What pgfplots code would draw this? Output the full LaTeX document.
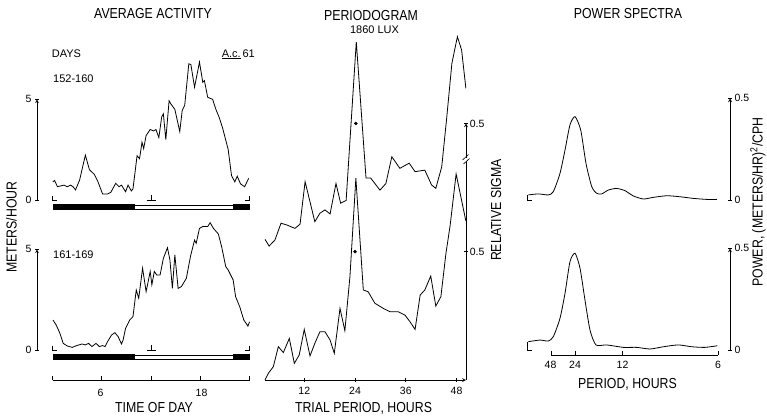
\documentclass[border=0pt]{standalone}
\usepackage{fontspec}
\setmainfont{Liberation Sans}
\newfontfamily\lblfont{Liberation Sans}[FakeStretch=0.85]
\usepackage{pgfplots}
\pgfplotsset{compat=1.18}

\newcommand\bigtxt{\lblfont\fontsize{14.5}{16}\selectfont}
\newcommand\smtxt{\fontsize{11}{12}\selectfont}
\newcommand\ticktxt{\fontsize{10.5}{12}\selectfont}

\pgfplotsset{
  panel/.style={
    enlargelimits=false, clip=false,
    tick align=inside, major tick length=4pt,
    axis line style={-, line width=0.7pt},
    every tick/.style={black, line width=0.7pt},
    tick label style={font=\ticktxt},
    /pgf/number format/assume math mode=true,
  },
  curve/.style={black, line width=0.8pt, mark=none},
}

\begin{document}
\begin{tikzpicture}[x=1pt,y=1pt]
\useasboundingbox (0,0) rectangle (767,-416);

% ---------------- average activity, days 152-160 ----------------
\begin{axis}[panel, at={(37pt,-200pt)}, anchor=south west,
  x=8.21pt, y=20.14pt, xmin=-1.89, xmax=24, ymin=0, ymax=5,
  axis x line=none, axis y line=left, ytick={0,5}]
\addplot[curve] table {
0.04 0.90
0.25 0.97
0.6 0.66
1.0 0.70
1.4 0.74
1.8 0.66
2.2 0.74
2.5 0.66
2.8 0.50
3.3 0.99
4.0 2.23
4.5 1.50
5.1 1.27
5.5 0.94
6.1 0.30
6.7 0.30
7.1 0.38
7.7 0.83
8.1 0.66
8.4 0.74
8.9 0.41
9.2 0.74
9.6 0.45
9.8 0.55
10.3 2.20
10.6 2.05
10.9 2.87
11.1 2.55
11.4 3.20
11.9 3.50
12.3 3.43
12.6 3.50
12.95 3.10
13.3 4.13
13.5 4.28
13.8 3.00
14.2 4.93
14.4 4.78
14.9 4.50
15.5 3.40
15.8 4.46
16.1 4.70
16.6 6.76
16.85 6.73
17.3 5.60
17.9 6.85
18.3 5.85
18.5 5.93
18.9 5.10
19.5 5.00
19.9 4.50
20.3 4.10
20.7 3.60
21.4 2.50
21.8 1.22
22.2 0.90
22.5 1.18
22.9 0.80
23.4 0.66
23.9 1.08
};
\draw[line width=0.6pt] (axis cs:0,0.22) -- (axis cs:0,0) -- (axis cs:0.55,0);
\draw[line width=0.6pt] (axis cs:24,0.22) -- (axis cs:24,0) -- (axis cs:23.45,0);
\draw[line width=0.6pt] (axis cs:11.45,0) -- (axis cs:12.55,0) (axis cs:12,0) -- (axis cs:12,0.25);
\fill (axis cs:0,-0.2) rectangle (axis cs:10,-0.5);
\draw[fill=white, line width=0.6pt] (axis cs:10,-0.24) rectangle (axis cs:22,-0.46);
\fill (axis cs:22,-0.2) rectangle (axis cs:24,-0.5);
\end{axis}

% ---------------- average activity, days 161-169 ----------------
\begin{axis}[panel, at={(37pt,-350pt)}, anchor=south west,
  x=8.21pt, y=20.14pt, xmin=-1.89, xmax=24, ymin=0, ymax=5,
  axis x line=none, axis y line=left, ytick={0,5}]
\addplot[curve] table {
0.05 1.49
0.45 1.24
0.9 0.83
1.3 0.33
1.8 0.20
2.4 0.13
2.8 0.20
3.2 0.25
3.6 0.30
4.0 0.25
4.4 0.33
4.8 0.17
5.3 0.33
5.7 0.17
6.1 0.22
6.4 0.17
6.7 0.41
7.2 0.75
7.6 0.86
8.0 0.66
8.4 0.30
8.6 0.50
8.9 1.08
9.4 1.49
9.8 1.66
10.2 2.98
10.5 2.57
10.97 4.06
11.4 2.90
11.9 3.90
12.1 3.24
12.4 3.90
12.7 3.72
13.1 3.72
13.5 4.55
14.0 5.08
14.3 4.47
14.6 3.06
14.9 4.72
15.3 3.06
15.7 3.15
16.3 3.56
16.8 4.64
17.3 5.46
17.5 5.30
17.9 6.04
18.3 6.13
18.9 6.13
19.2 6.32
19.6 6.04
20.2 5.76
20.6 5.13
21.1 4.14
21.4 3.97
22.0 3.48
22.3 2.65
22.8 2.15
23.3 1.49
23.8 1.19
24.0 1.40
};
\draw[line width=0.6pt] (axis cs:0,0.22) -- (axis cs:0,0) -- (axis cs:0.55,0);
\draw[line width=0.6pt] (axis cs:24,0.22) -- (axis cs:24,0) -- (axis cs:23.45,0);
\draw[line width=0.6pt] (axis cs:11.45,0) -- (axis cs:12.55,0) (axis cs:12,0) -- (axis cs:12,0.25);
\fill (axis cs:0,-0.22) rectangle (axis cs:10,-0.52);
\draw[fill=white, line width=0.6pt] (axis cs:10,-0.26) rectangle (axis cs:22,-0.48);
\fill (axis cs:22,-0.22) rectangle (axis cs:24,-0.52);
% time of day scale
\draw[line width=0.7pt] (axis cs:0,-1.49) -- (axis cs:24,-1.49);
\draw[line width=0.7pt] (axis cs:0,-1.49) -- (axis cs:0,-1.29);
\draw[line width=0.7pt] (axis cs:6,-1.49) -- (axis cs:6,-1.29);
\draw[line width=0.7pt] (axis cs:12,-1.49) -- (axis cs:12,-1.29);
\draw[line width=0.7pt] (axis cs:18,-1.49) -- (axis cs:18,-1.29);
\draw[line width=0.7pt] (axis cs:24,-1.49) -- (axis cs:24,-1.29);
\end{axis}

% ---------------- periodogram ----------------
\begin{axis}[panel, at={(265pt,-380pt)}, anchor=south west,
  x=4.23pt, y=256.6pt, xmin=2.72, xmax=50.24, ymin=0, ymax=1,
  axis x line=bottom, axis y line=right,
  xtick={12,24,36,48}, ytick={0.5,1}, yticklabels={0.5,0.5},
  major tick length=3.5pt,
  xticklabel style={yshift=-2pt}, yticklabel style={xshift=-1.5pt}]
% days 152-160, raised by 0.5
\addplot[curve] table[y expr=\thisrowno{1}+0.5] {
2.72 0.048
3.7 0.022
5.08 0.046
6.5 0.111
7.9 0.104
9.8 0.091
11.0 0.107
12.2 0.273
14.5 0.117
15.7 0.150
16.9 0.163
18.1 0.147
19.5 0.266
20.6 0.189
21.9 0.200
24.3 0.818
26.6 0.287
27.7 0.287
29.9 0.240
31.3 0.266
32.7 0.370
34.6 0.325
36.8 0.345
38.2 0.312
40.5 0.318
42.1 0.260
43.1 0.247
44.5 0.331
45.7 0.526
46.9 0.734
48.2 0.838
49.2 0.786
50.2 0.637
};
\addplot[only marks, mark=*, mark size=1.5pt, black] table[y expr=\thisrowno{1}+0.5] {
24.2 0.5
};
% days 161-169
\addplot[curve] table {
2.72 0.0
3.5 0.026
4.69 0.052
5.87 0.13
7.05 0.107
8.47 0.162
9.65 0.065
10.8 0.097
12.0 0.197
13.36 0.094
14.5 0.143
15.7 0.188
16.9 0.188
18.1 0.156
19.1 0.104
20.45 0.279
21.6 0.192
22.8 0.403
24.2 0.787
25.96 0.351
27.1 0.344
28.7 0.299
30.7 0.279
32.3 0.266
34.2 0.266
35.8 0.253
37.0 0.227
38.2 0.197
39.4 0.331
40.5 0.351
41.9 0.405
43.1 0.288
44.3 0.325
45.5 0.494
46.5 0.604
47.9 0.803
50.2 0.62
};
\addplot[only marks, mark=*, mark size=1.5pt, black] table {
24.0 0.5
};
\end{axis}
% axis break
\fill[white] (463,-157.5) rectangle (469,-161);
\draw[line width=0.6pt] (462.5,-160) -- (468.5,-154.5);
\draw[line width=0.6pt] (463.5,-164) -- (469.5,-158.5);

% ---------------- power spectra ----------------
\begin{axis}[panel, at={(527.2pt,-200pt)}, anchor=south west,
  x=1146pt, y=203.3pt, xmin=0, xmax=0.177, ymin=0, ymax=0.5,
  axis x line=none, axis y line=right, ytick={0,0.5}, yticklabels={0,0.5},
  yticklabel style={xshift=-1pt}]
\addplot[curve, smooth, tension=0.4] table {
0.001 0.025
0.0097 0.030
0.0184 0.025
0.0228 0.041
0.0286 0.131
0.033 0.246
0.0373 0.369
0.0417 0.410
0.0467 0.344
0.0513 0.180
0.0563 0.066
0.0606 0.033
0.065 0.030
0.0708 0.049
0.078 0.057
0.0853 0.046
0.0926 0.020
0.1013 0.005
0.110 0.013
0.1217 0.021
0.1333 0.016
0.1449 0.008
0.1566 0.003
0.1654 0.003
};
\draw[line width=0.6pt] (axis cs:0,0.025) -- (axis cs:0,0) -- (axis cs:0.004,0);
\end{axis}

\begin{axis}[panel, at={(527.2pt,-350pt)}, anchor=south west,
  x=1146pt, y=203.3pt, xmin=0, xmax=0.177, ymin=0, ymax=0.5,
  axis x line=none, axis y line=right, ytick={0,0.5}, yticklabels={0,0.5},
  yticklabel style={xshift=-1pt}]
\addplot[curve, smooth, tension=0.4] table {
0.001 0.041
0.0112 0.049
0.0184 0.044
0.0228 0.066
0.0286 0.156
0.033 0.279
0.0373 0.434
0.0417 0.476
0.0461 0.402
0.0504 0.246
0.0548 0.098
0.060 0.025
0.0694 0.025
0.0839 0.013
0.0955 0.013
0.1072 0.005
0.1188 0.016
0.1318 0.025
0.1435 0.016
0.1551 0.013
0.1659 0.021
};
\draw[line width=0.6pt] (axis cs:0,0.041) -- (axis cs:0,0) -- (axis cs:0.004,0);
% period scale (cycles per hour)
\draw[line width=0.7pt] (axis cs:0.02083,-0.0246) -- (axis cs:0.16667,-0.0246);
\draw[line width=0.7pt] (axis cs:0.02083,-0.0246) -- (axis cs:0.02083,-0.005);
\draw[line width=0.7pt] (axis cs:0.04167,-0.0246) -- (axis cs:0.04167,-0.005);
\draw[line width=0.7pt] (axis cs:0.08333,-0.0246) -- (axis cs:0.08333,-0.005);
\draw[line width=0.7pt] (axis cs:0.16667,-0.0246) -- (axis cs:0.16667,-0.005);
\end{axis}

% ---------------- text ----------------
\node[anchor=base, inner sep=0, font=\bigtxt] at (153,-18.3) {AVERAGE ACTIVITY};
\node[anchor=base, inner sep=0, font=\bigtxt] at (371,-20) {PERIODOGRAM};
\node[anchor=base, inner sep=0, font=\smtxt] at (374.5,-33) {1860 LUX};
\node[anchor=base, inner sep=0, font=\bigtxt] at (628,-18.3) {POWER SPECTRA};

\node[anchor=base, inner sep=0, font=\smtxt] at (66.5,-57) {DAYS};
\node[anchor=base west, inner sep=0, font=\smtxt] at (53,-82) {152-160};
\node[anchor=base east, inner sep=0, font=\smtxt] at (255,-57) {\underline{A.c.}\,61};
\node[anchor=base west, inner sep=0, font=\smtxt] at (53,-258) {161-169};

\node[rotate=90, inner sep=0, font=\bigtxt] at (11.5,-227) {METERS/HOUR};
\node[anchor=base, inner sep=0, font=\ticktxt] at (100.5,-396) {6};
\node[anchor=base, inner sep=0, font=\ticktxt] at (201.5,-396) {18};
\node[anchor=base, inner sep=0, font=\bigtxt] at (154,-412) {TIME OF DAY};

\node[anchor=base, inner sep=0, font=\bigtxt] at (363.5,-412) {TRIAL PERIOD, HOURS};
\node[rotate=90, inner sep=0, font=\bigtxt] at (496,-210) {RELATIVE SIGMA};

\node[anchor=base, inner sep=0, font=\ticktxt] at (550.5,-368) {48};
\node[anchor=base, inner sep=0, font=\ticktxt] at (575,-368) {24};
\node[anchor=base, inner sep=0, font=\ticktxt] at (622.5,-368) {12};
\node[anchor=base, inner sep=0, font=\ticktxt] at (718,-368) {6};
\node[anchor=base, inner sep=0, font=\bigtxt] at (627.5,-388) {PERIOD, HOURS};
\node[rotate=90, inner sep=0, font=\bigtxt] at (758,-202) {POWER, (METERS/HR)\textsuperscript{2}/CPH};
\end{tikzpicture}
\end{document}
